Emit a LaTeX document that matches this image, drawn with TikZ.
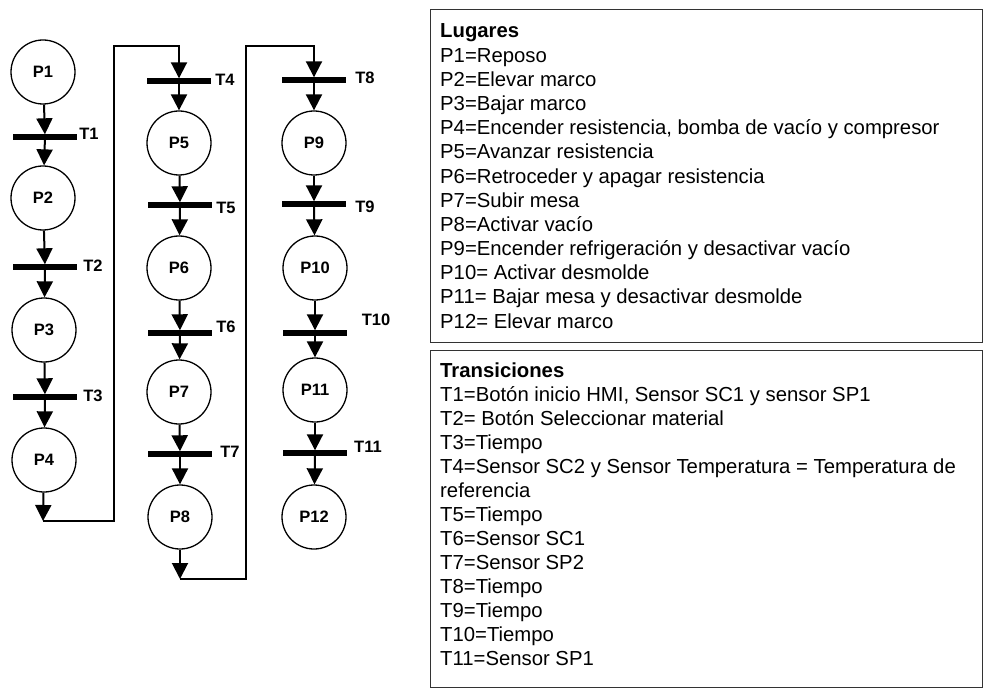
\documentclass[tikz,border=0pt]{standalone}
\usepackage{fontspec}
\setmainfont{Liberation Sans}
\usetikzlibrary{arrows.meta,shapes.geometric}

\begin{document}
\begin{tikzpicture}[x=1pt,y=-1pt,
  place/.style={circle,draw,line width=1.3pt,minimum size=64pt,inner sep=0pt,
    font=\fontsize{16.5}{19}\selectfont\bfseries},
  trans/.style={rectangle,fill=black,minimum width=64pt,minimum height=5pt,inner sep=0pt},
  tlabel/.style={font=\fontsize{16.5}{19}\selectfont\bfseries,inner sep=0pt},
  arr/.style={line width=2pt,-{Triangle[width=16pt,length=16pt]}},
  legend/.style={draw=black!80,line width=1.3pt,anchor=north west,minimum width=552pt,inner sep=0pt},
  row/.style={anchor=base west,inner sep=0pt,font=\fontsize{20.3}{24}\selectfont}]

\useasboundingbox (0,0) rectangle (984,692);

% ---- first column ----
\node[place] (P1) at (43,72)  {P1};
\node[trans] (T1) at (45,137) {};
\node[place] (P2) at (43,198) {P2};
\node[trans] (T2) at (45,267) {};
\node[place] (P3) at (44,330) {P3};
\node[trans] (T3) at (45,397) {};
\node[place] (P4) at (44,460) {P4};
\coordinate (j1) at (43,521);
\coordinate (j2) at (114,46);

% ---- second column ----
\node[trans] (T4) at (179,81)  {};
\node[place] (P5) at (179,143) {P5};
\node[trans] (T5) at (180,205) {};
\node[place] (P6) at (179,268) {P6};
\node[trans] (T6) at (180,333) {};
\node[place] (P7) at (179,392) {P7};
\node[trans] (T7) at (180,454) {};
\node[place] (P8) at (180,517) {P8};
\coordinate (j3) at (180,579);
\coordinate (j4) at (246,46);

% ---- third column ----
\node[trans] (T8)  at (314,80)  {};
\node[place] (P9)  at (314,143) {P9};
\node[trans] (T9)  at (314,204) {};
\node[place] (P10) at (315,268) {P10};
\node[trans] (T10) at (315,333) {};
\node[place] (P11) at (315,390) {P11};
\node[trans] (T11) at (315,453) {};
\node[place] (P12) at (314,517) {P12};

% transition labels
\node[tlabel] (L1)  at (89,134)  {T1};
\node[tlabel] (L2)  at (93,266)  {T2};
\node[tlabel] (L3)  at (93,396)  {T3};
\node[tlabel] (L4)  at (225,80)  {T4};
\node[tlabel] (L5)  at (226,208) {T5};
\node[tlabel] (L6)  at (226,327) {T6};
\node[tlabel] (L7)  at (230,452) {T7};
\node[tlabel] (L8)  at (365,78)  {T8};
\node[tlabel] (L9)  at (365,207) {T9};
\node[tlabel] (L10) at (376,320) {T10};
\node[tlabel] (L11) at (368,447) {T11};

% arcs of the net
\foreach \a/\b in {P1/T1,T1/P2,P2/T2,T2/P3,P3/T3,T3/P4,
                   T4/P5,P5/T5,T5/P6,P6/T6,T6/P7,P7/T7,T7/P8,
                   T8/P9,P9/T9,T9/P10,P10/T10,T10/P11,P11/T11,T11/P12}
  \draw[arr] (\a) -- (\b);

% links between the columns
\draw[arr] (P4) -- (j1);
\draw[arr] (j1) -| (j2) -| (T4);
\draw[arr] (P8) -- (j3);
\draw[arr] (j3) -| (j4) -| (T8);

% redraw bars on top of the arcs
\foreach \t in {T1,T2,T3,T4,T5,T6,T7,T8,T9,T10,T11}
  \fill (\t.north west) rectangle (\t.south east);

% ---- legend: places ----
\node[legend,minimum height=333pt] (boxP) at (430,9) {};
\foreach [count=\i from 0] \txt in {{\bfseries Lugares},
  P1=Reposo,
  P2=Elevar marco,
  P3=Bajar marco,
  {P4=Encender resistencia, bomba de vacío y compresor},
  P5=Avanzar resistencia,
  P6=Retroceder y apagar resistencia,
  P7=Subir mesa,
  P8=Activar vacío,
  P9=Encender refrigeración y desactivar vacío,
  P10= Activar desmolde,
  P11= Bajar mesa y desactivar desmolde,
  P12= Elevar marco}
  \node[row] (lp\i) at (440,38+24.17*\i) {\txt};

% ---- legend: transitions ----
\node[legend,minimum height=337pt] (boxT) at (430,350) {};
\foreach [count=\i from 0] \txt in {{\bfseries Transiciones},
  {T1=Botón inicio HMI, Sensor SC1 y sensor SP1},
  T2= Botón Seleccionar material,
  T3=Tiempo,
  T4=Sensor SC2 y Sensor Temperatura = Temperatura de,
  referencia,
  T5=Tiempo,
  T6=Sensor SC1,
  T7=Sensor SP2,
  T8=Tiempo,
  T9=Tiempo,
  T10=Tiempo,
  T11=Sensor SP1}
  \node[row] (lt\i) at (440,377+24.08*\i) {\txt};

\end{tikzpicture}
\end{document}
